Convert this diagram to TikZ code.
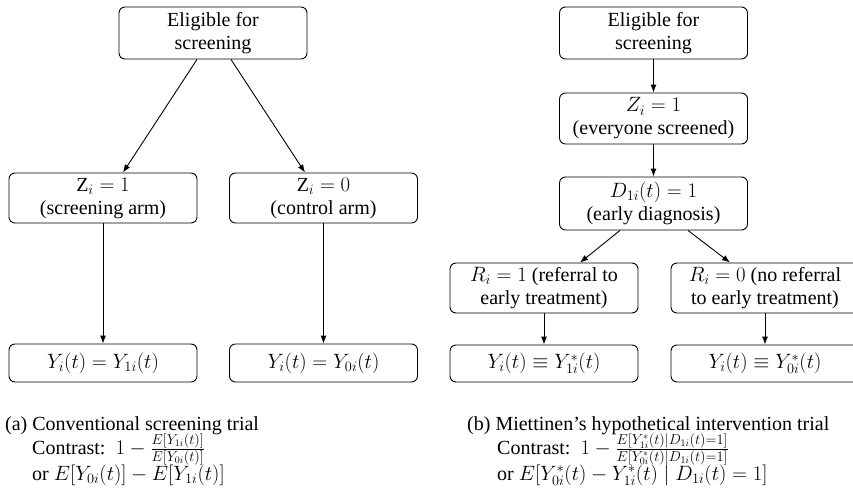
\documentclass[tikz,border=0pt]{standalone}
\usepackage{fontspec}
\setmainfont{Liberation Serif}
\usetikzlibrary{arrows.meta,calc}
\tikzset{
  box/.style={draw, rounded corners=6pt, line width=0.9pt, minimum width=188pt,
    align=center, inner sep=0pt, font=\fontsize{20}{23}\selectfont},
  twoline/.style={box, minimum height=51pt},
  oneline/.style={box, minimum height=38pt},
  arr/.style={line width=0.9pt, -{Latex[length=8pt,width=6pt]}},
  captext/.style={anchor=base west, inner sep=0pt, font=\fontsize{20}{23}\selectfont}
}
\begin{document}
\begin{tikzpicture}[x=1pt,y=-1pt]
\useasboundingbox (0,0) rectangle (853,487);
% left panel
\node[twoline, minimum height=52pt] (le) at (213,33) {Eligible for\\screening};
\node[twoline, minimum height=50pt] (lz1) at (103,198) {$\mathrm{Z}_i = 1$\\(screening arm)};
\node[twoline, minimum height=50pt] (lz0) at (323.5,198) {$\mathrm{Z}_i = 0$\\(control arm)};
\node[oneline] (ly1) at (103,363) {$Y_i(t) = Y_{1i}(t)$};
\node[oneline] (ly0) at (323.5,363) {$Y_i(t) = Y_{0i}(t)$};
\draw[arr] ($(le.south)+(-16,0)$) -- ($(lz1.north)+(20,0)$);
\draw[arr] ($(le.south)+(18,0)$) -- ($(lz0.north)+(-18.5,0)$);
\draw[arr] (lz1) -- (ly1);
\draw[arr] (lz0) -- (ly0);
% right panel
\node[twoline, minimum height=52pt] (re) at (653.5,33) {Eligible for\\screening};
\node[twoline] (rz) at (653.5,118.5) {$Z_i = 1$\\(everyone screened)};
\node[twoline, minimum height=53pt] (rd) at (653.5,203.5) {$D_{1i}(t) = 1$\\(early diagnosis)};
\node[twoline, minimum height=50pt] (rr1) at (544,288) {$R_i = 1$ (referral to\\early treatment)};
\node[twoline, minimum height=50pt] (rr0) at (765,288) {$R_i = 0$ (no referral\\to early treatment)};
\node[oneline, minimum height=37pt] (ry1) at (544,363.5) {$Y_i(t) \equiv Y^*_{1i}(t)$};
\node[oneline, minimum height=37pt] (ry0) at (765,363.5) {$Y_i(t) \equiv Y^*_{0i}(t)$};
\draw[arr] (re) -- (rz);
\draw[arr] (rz) -- (rd);
\draw[arr] ($(rd.south)+(-33.5,0)$) -- ($(rr1.north)+(36,0)$);
\draw[arr] ($(rd.south)+(34.5,0)$) -- ($(rr0.north)+(-35,0)$);
\draw[arr] (rr1) -- (ry1);
\draw[arr] (rr0) -- (ry0);
% captions
\node[captext] (ca1) at (5,430) {(a) Conventional screening trial};
\node[captext] (ca2) at (32,454) {Contrast:\enspace$1-\frac{E[Y_{1i}(t)]}{E[Y_{0i}(t)]}$};
\node[captext] (ca3) at (32,480) {or $E[Y_{0i}(t)]-E[Y_{1i}(t)]$};
\node[captext] (cb1) at (467,430) {(b) Miettinen's hypothetical intervention trial};
\node[captext] (cb2) at (497,454) {Contrast:\enspace$1-\frac{E[Y^*_{1i}(t)|D_{1i}(t)=1]}{E[Y^*_{0i}(t)|D_{1i}(t)=1]}$};
\node[captext] (cb3) at (497,480) {or $E[Y^*_{0i}(t)-Y^*_{1i}(t)\mid D_{1i}(t)=1]$};
\end{tikzpicture}
\end{document}
